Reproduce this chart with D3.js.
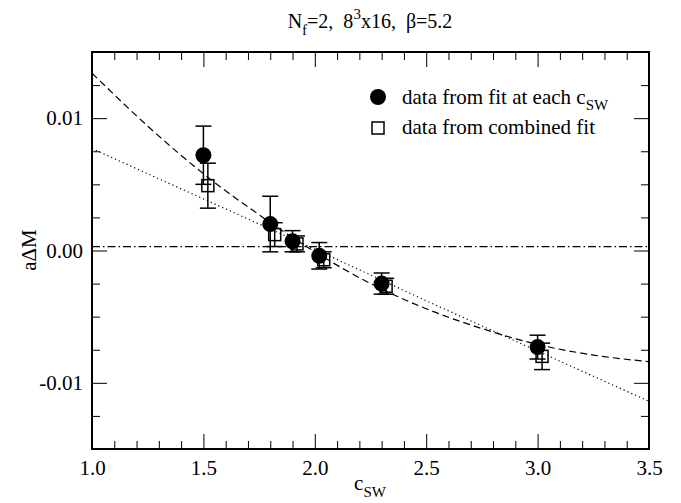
<!DOCTYPE html>
<html><head><meta charset="utf-8">
<script src="https://cdn.jsdelivr.net/npm/d3@7"></script>
<style>body{margin:0;background:#fff}svg{display:block}</style>
</head><body><svg id="c" width="681" height="503"></svg>
<script>
// ---- data ----
const circX   = [1.50, 1.80, 1.90, 2.02, 2.30, 3.00];
const circY   = [0.0072, 0.0020, 0.0007, -0.0004, -0.0025, -0.0073];
const circErr = [0.0022, 0.0021, 0.0008, 0.0010, 0.0008, 0.0009];
const sqX     = [1.52, 1.82, 1.92, 2.04, 2.32, 3.02];
const sqY     = [0.0049, 0.0012, 0.0005, -0.0007, -0.0027, -0.0080];
const sqErr   = [0.0017, 0.0009, 0.0006, 0.0006, 0.0006, 0.0010];
const curveX  = [1.0, 1.25, 1.5, 1.75, 2.0, 2.25, 2.5, 2.75, 3.0, 3.25, 3.5];
const dashedY = [0.0134, 0.0094, 0.0058, 0.0027, -0.0001, -0.0025, -0.0044, -0.0059, -0.0071, -0.0079, -0.0084];
const lineX   = [1.0, 1.5, 2.0, 2.5, 3.0, 3.5];
const dottedY = [0.0077, 0.0039, 0.0001, -0.0038, -0.0076, -0.0114];
const flatY   = 0.0003;
const xTicks  = [1.0, 1.5, 2.0, 2.5, 3.0, 3.5];
const yTicks  = [-0.01, 0.00, 0.01];
const yTickLabels = ["-0.01", "0.00", "0.01"];
const legendLabels = ["data from fit at each c", "data from combined fit"];

// ---- layout ----
const L = 92, R = 649, T = 52, B = 449;
const FONT = "'Liberation Serif'";
const svg = d3.select("#c");
const x = d3.scaleLinear().domain([1.0, 3.5]).range([L, R]);
const y = d3.scaleLinear().domain([-0.015, 0.015]).range([B, T]);

svg.append("clipPath").attr("id","pc").append("rect")
  .attr("x", L).attr("y", T).attr("width", R-L).attr("height", B-T);

const xMinor = d3.range(1.0, 3.5001, 0.1).filter(v => Math.abs(v*2 - Math.round(v*2)) > 1e-6);
const yMinor = d3.range(-0.015, 0.01501, 0.0025).filter(v => Math.abs(v*100 - Math.round(v*100)) > 1e-6);

function addAxis(axisGen, tr) {
  const g = svg.append("g").attr("transform", tr).call(axisGen);
  g.attr("font-family", null);
  g.select(".domain").remove();
  g.selectAll("line").attr("stroke", "#000").attr("stroke-width", 1);
  return g;
}
const fmt = d3.format(".1f");
addAxis(d3.axisBottom(x).tickValues(xTicks).tickSize(-15).tickPadding(11).tickFormat(fmt), `translate(0,${B})`)
  .selectAll("text").attr("font-size", 21);
addAxis(d3.axisBottom(x).tickValues(xMinor).tickSize(-8).tickFormat(""), `translate(0,${B})`);
addAxis(d3.axisTop(x).tickValues(xTicks).tickSize(-15).tickFormat(""), `translate(0,${T})`);
addAxis(d3.axisTop(x).tickValues(xMinor).tickSize(-8).tickFormat(""), `translate(0,${T})`);
addAxis(d3.axisLeft(y).tickValues(yTicks).tickSize(-15).tickPadding(9).tickFormat((d,i)=>yTickLabels[i]), `translate(${L},0)`)
  .selectAll("text").attr("font-size", 21);
addAxis(d3.axisLeft(y).tickValues(yMinor).tickSize(-8).tickFormat(""), `translate(${L},0)`);
addAxis(d3.axisRight(y).tickValues(yTicks).tickSize(-15).tickFormat(""), `translate(${R},0)`);
addAxis(d3.axisRight(y).tickValues(yMinor).tickSize(-8).tickFormat(""), `translate(${R},0)`);

svg.append("rect").attr("x", L).attr("y", T).attr("width", R-L).attr("height", B-T)
  .attr("fill", "none").attr("stroke", "#000").attr("stroke-width", 2);

const plot = svg.append("g").attr("clip-path", "url(#pc)");

const line = d3.line().curve(d3.curveMonotoneX);
plot.append("path").attr("d", line(curveX.map((v,i)=>[x(v), y(dashedY[i])])))
  .attr("fill","none").attr("stroke","#000").attr("stroke-width",1.2).attr("stroke-dasharray","7,4");
plot.append("path").attr("d", d3.line()(lineX.map((v,i)=>[x(v), y(dottedY[i])])))
  .attr("fill","none").attr("stroke","#000").attr("stroke-width",1.2).attr("stroke-dasharray","1.2,3");
plot.append("line").attr("x1", x(1.0)).attr("x2", x(3.5)).attr("y1", y(flatY)).attr("y2", y(flatY))
  .attr("stroke","#000").attr("stroke-width",1.2).attr("stroke-dasharray","8,3,1.5,3");

function errBars(xs, ys, es, cap) {
  xs.forEach((v,i)=>{
    const cx = x(v), y1 = y(ys[i]+es[i]), y2 = y(ys[i]-es[i]);
    plot.append("line").attr("x1",cx).attr("x2",cx).attr("y1",y1).attr("y2",y2).attr("stroke","#000").attr("stroke-width",1.5);
    [y1,y2].forEach(yy=>plot.append("line").attr("x1",cx-cap).attr("x2",cx+cap).attr("y1",yy).attr("y2",yy).attr("stroke","#000").attr("stroke-width",1.5));
  });
}
errBars(sqX, sqY, sqErr, 8);
errBars(circX, circY, circErr, 8);

plot.selectAll(".sq").data(sqX).enter().append("rect")
  .attr("x", (d)=>x(d)-6).attr("y", (d,i)=>y(sqY[i])-6).attr("width", 12).attr("height", 12)
  .attr("fill","none").attr("stroke","#000").attr("stroke-width",1.5);
plot.selectAll(".ci").data(circX).enter().append("circle")
  .attr("cx", d=>x(d)).attr("cy", (d,i)=>y(circY[i])).attr("r", 8).attr("fill","#000");

// legend
svg.append("circle").attr("cx", 378).attr("cy", 97).attr("r", 8).attr("fill","#000");
svg.append("rect").attr("x", 372).attr("y", 122).attr("width", 12).attr("height", 12)
  .attr("fill","none").attr("stroke","#000").attr("stroke-width",1.5);
const t1 = svg.append("text").attr("x", 402).attr("y", 104).attr("font-size", 21);
t1.append("tspan").text(legendLabels[0]);
t1.append("tspan").attr("dy", 6).attr("font-size", 15).text("SW");
svg.append("text").attr("x", 402).attr("y", 134).attr("font-size", 21).text(legendLabels[1]);

// title
const tt = svg.append("text").attr("x", 370).attr("y", 28).attr("text-anchor","middle").attr("font-size", 20)
  .attr("xml:space","preserve").style("white-space","pre");
tt.append("tspan").text("N");
tt.append("tspan").attr("dy", 7).attr("font-size", 15).text("f");
tt.append("tspan").attr("dy", -7).text("=2,  8");
tt.append("tspan").attr("dy", -9).attr("font-size", 15).text("3");
tt.append("tspan").attr("dy", 9).text("x16,  β=5.2");

// axis labels
const xl = svg.append("text").attr("x", 370).attr("y", 490).attr("text-anchor","middle").attr("font-size", 21);
xl.append("tspan").text("c");
xl.append("tspan").attr("dy", 7).attr("font-size", 15).text("SW");
svg.append("text").attr("transform","translate(36,250) rotate(-90)").attr("text-anchor","middle").attr("font-size", 21).text("aΔM");

// font for every text
svg.selectAll("text").style("font-family", FONT).attr("fill", "#000");
</script></body></html>
